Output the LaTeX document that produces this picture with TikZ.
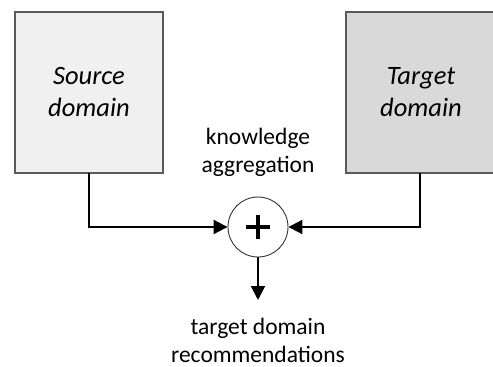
\documentclass[tikz,border=0pt]{standalone}
\usepackage{fontspec}
\setmainfont{Carlito}
\usetikzlibrary{arrows.meta}
\definecolor{edgegray}{HTML}{5A5A5A}
\definecolor{srcfill}{HTML}{F0F0F0}
\definecolor{tgtfill}{HTML}{D9D9D9}
\begin{document}
\begin{tikzpicture}[x=1pt,y=-1pt,
  domainbox/.style={draw=edgegray,line width=1.6pt,minimum width=148pt,minimum height=161pt,
    inner sep=0pt,align=center,font=\fontsize{26.5}{32}\selectfont\itshape},
  plusnode/.style={draw=black!80,line width=0.9pt,circle,minimum size=60pt,inner sep=0pt},
  caption/.style={align=center,inner sep=0pt,font=\fontsize{23.5}{28}\selectfont},
  flow/.style={line width=2pt,-{Triangle[length=14pt,width=14pt]}}]
\useasboundingbox (0,0) rectangle (493,367);
\node[domainbox,fill=srcfill] (src) at (89,92.5) {Source\\domain};
\node[domainbox,fill=tgtfill,minimum width=150pt] (tgt) at (421,92.5) {Target\\domain};
\node[plusnode] (agg) at (258,227) {};
\draw[line width=3.6pt,line cap=butt] (246,227) -- (270,227) (258,215) -- (258,239);
\node[caption] (agglabel) at (258,152) {knowledge\\aggregation};
\coordinate (srcturn) at (89,227);
\coordinate (tgtturn) at (420,227);
\coordinate (outend) at (258,300);
\draw[flow] (89,173) -- (srcturn) -- (agg.west);
\draw[flow] (420,173) -- (tgtturn) -- (agg.east);
\draw[flow] (agg.south) -- (outend);
\node[caption] (reclabel) at (258,340) {target domain\\recommendations};
\end{tikzpicture}
\end{document}
